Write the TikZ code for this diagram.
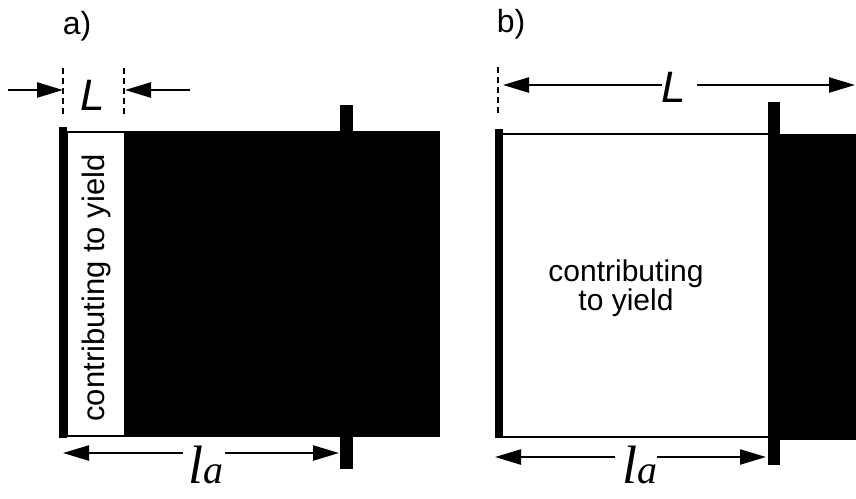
\documentclass[tikz,border=0pt]{standalone}
\usepackage{fontspec}
\setmainfont{Liberation Sans}
\newfontfamily\timesf{Liberation Serif}
\usetikzlibrary{arrows.meta}
\begin{document}
\begin{tikzpicture}[x=1pt,y=-1pt,
  dimline/.style={line width=2.3pt,-{Triangle[length=26pt,width=15pt]}},
  dashv/.style={line width=2pt,dash pattern=on 6pt off 4pt},
  outline/.style={line width=2.2pt},
  panellbl/.style={font=\fontsize{32}{32}\selectfont,inner sep=0pt,anchor=base},
  Llbl/.style={font=\fontsize{44}{44}\selectfont\itshape,inner sep=0pt,anchor=base},
  lalbl/.style={inner sep=0pt,anchor=base},
  yieldtxt/.style={font=\fontsize{30}{29}\selectfont,inner sep=0pt,align=center}]
\useasboundingbox (0,0) rectangle (856,498);
\newcommand{\latext}{{\timesf\itshape\fontsize{54}{54}\selectfont l\fontsize{40}{40}\selectfont a}}
% ---------- panel a ----------
\node[panellbl] (pa) at (77,34) {a)};
\fill (59,127) rectangle (67,438);
\draw[outline] (67,132) rectangle (125,436);
\fill (125,131) rectangle (440,437);
\fill (340,105) rectangle (353,469);
\node[yieldtxt,rotate=90,font=\fontsize{31}{31}\selectfont] (ya) at (96,288) {contributing to yield};
\coordinate (a1t) at (63,68); \coordinate (a1b) at (63,115);
\coordinate (a2t) at (124,68); \coordinate (a2b) at (124,115);
\draw[dashv] (a1t) -- (a1b);
\draw[dashv] (a2t) -- (a2b);
\coordinate (aLs) at (8,90); \coordinate (aLe) at (63,90);
\coordinate (aRs) at (190,90); \coordinate (aRe) at (125,90);
\draw[dimline] (aLs) -- (aLe);
\draw[dimline] (aRs) -- (aRe);
\node[Llbl] (La) at (93,110) {L};
\coordinate (la1s) at (183,453); \coordinate (la1e) at (63,453);
\coordinate (la2s) at (225,453); \coordinate (la2e) at (339,453);
\draw[dimline] (la1s) -- (la1e);
\draw[dimline] (la2s) -- (la2e);
\node[lalbl] (laa) at (206,483) {\latext};
% ---------- panel b ----------
\node[panellbl] (pb) at (511,32) {b)};
\fill (495,129) rectangle (503,438);
\draw[outline] (503,134) -- (770,134);
\draw[outline] (503,437) -- (770,437);
\fill (780,134) rectangle (856,440);
\fill (768,102) rectangle (780,465);
\node[yieldtxt] (yb) at (626,288) {contributing\\to yield};
\coordinate (b1t) at (498,67); \coordinate (b1b) at (498,115);
\draw[dashv] (b1t) -- (b1b);
\coordinate (bLs) at (662,85); \coordinate (bLe) at (503,85);
\coordinate (bRs) at (697,85); \coordinate (bRe) at (855,85);
\draw[dimline] (bLs) -- (bLe);
\draw[dimline] (bRs) -- (bRe);
\node[Llbl] (Lb) at (674,102) {L};
\coordinate (lb1s) at (615,457); \coordinate (lb1e) at (495,457);
\coordinate (lb2s) at (657,457); \coordinate (lb2e) at (766,457);
\draw[dimline] (lb1s) -- (lb1e);
\draw[dimline] (lb2s) -- (lb2e);
\node[lalbl] (lab) at (640,483) {\latext};
\end{tikzpicture}
\end{document}
